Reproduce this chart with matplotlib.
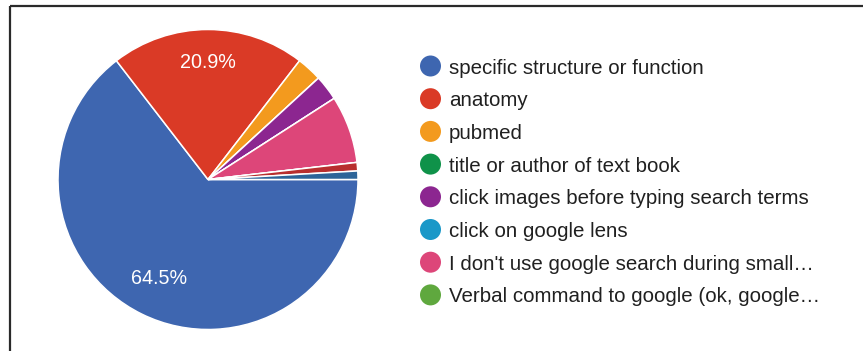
import matplotlib.pyplot as plt
from matplotlib.patches import Circle

plt.rcParams['font.family'] = ['Liberation Sans', 'DejaVu Sans']

# Responses (n = 110); the last two categories are not listed in the legend page
categories = ['specific structure or function', 'anatomy', 'pubmed',
              'title or author of text book', 'click images before typing search terms',
              'click on google lens', "I don't use google search during small\u2026",
              'Verbal command to google (ok, google\u2026', 'other 1', 'other 2']
counts = [71, 23, 3, 0, 3, 0, 8, 0, 1, 1]
colors = ['#3e66b0', '#da3a26', '#f39a1e', '#0f9249', '#8c2690',
          '#1a98c8', '#dd4679', '#5fa83e', '#b82e2e', '#2d6498']
legend_items = 8

W, H = 863, 351
fig = plt.figure(figsize=(W / 100, H / 100), dpi=100)

# pie axes: centre (208, 179.5), radius 150 px
cx, cy, r = 208, 179.5, 150
ax = fig.add_axes([(cx - r) / W, (H - cy - r) / H, 2 * r / W, 2 * r / H])


def pct_label(p):
    return f'{p:.1f}%' if p > 10 else ''


wedges, texts, autotexts = ax.pie(
    counts, colors=colors, startangle=0, counterclock=False,
    autopct=pct_label, pctdistance=0.76,
    wedgeprops=dict(edgecolor='white', linewidth=1.1),
    textprops=dict(color='white', fontsize=14.2))
# nudge the big-slice labels a little
autotexts[0].set_position((autotexts[0].get_position()[0] * 0.97,
                           autotexts[0].get_position()[1] * 0.97))
autotexts[1].set_position((autotexts[1].get_position()[0],
                           autotexts[1].get_position()[1] * 1.03))
ax.set_xlim(-1, 1)
ax.set_ylim(-1, 1)
ax.set_aspect('equal')

# overlay in pixel units for the legend and frame lines
ov = fig.add_axes([0, 0, 1, 1], facecolor='none')
ov.set_xlim(0, W)
ov.set_ylim(H, 0)
ov.axis('off')

ov.plot([10, W], [6, 6], color='#2a2a2a', lw=1.6, solid_capstyle='butt')
ov.plot([10, 10], [6, H], color='#2a2a2a', lw=1.6, solid_capstyle='butt')

y0, dy = 66, 32.7
for i in range(legend_items):
    y = y0 + i * dy
    ov.add_patch(Circle((430.5, y), 10.5, color=colors[i], lw=0))
    ov.text(449, y, categories[i], fontsize=14.8, color='#202020',
            va='center_baseline', ha='left')

fig.savefig('out.png', dpi=100)
